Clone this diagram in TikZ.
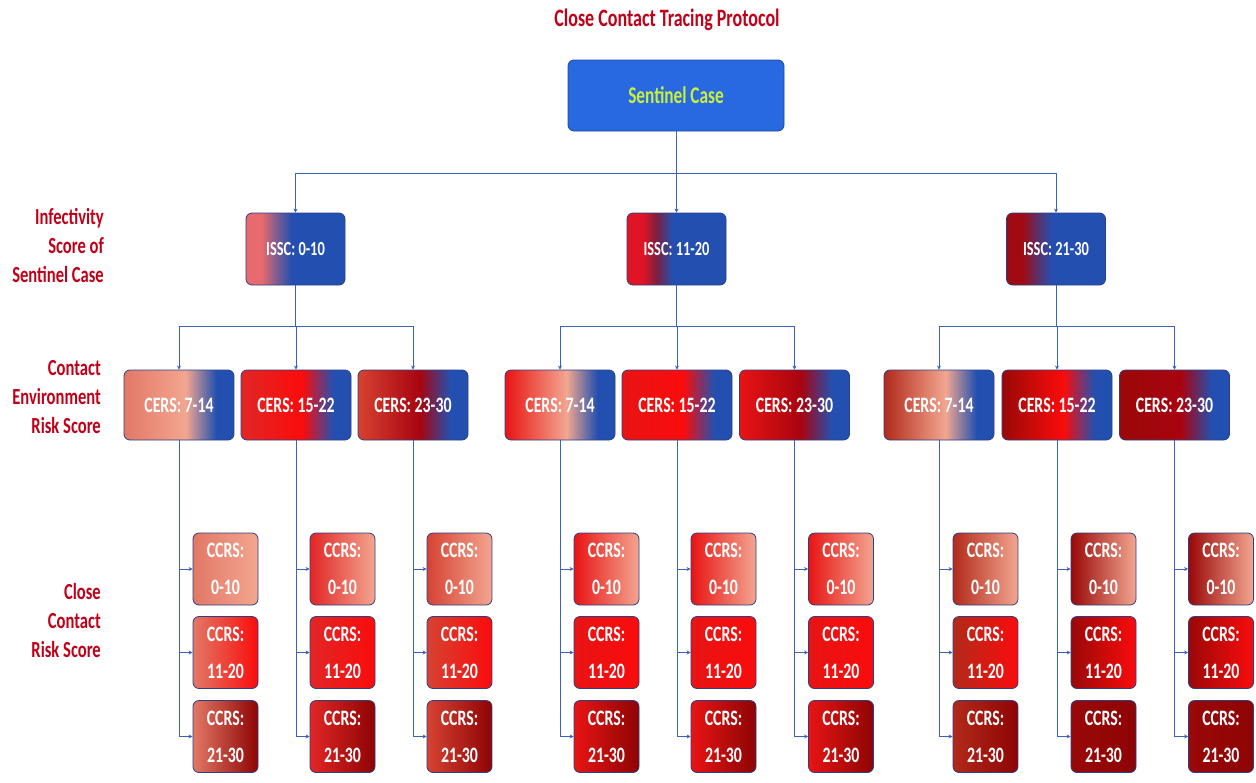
\documentclass[tikz,border=0pt]{standalone}
\usepackage{fontspec}
\setmainfont{Carlito}[FakeStretch=0.72]
\usetikzlibrary{arrows.meta}

\definecolor{titlered}{HTML}{C00018}
\definecolor{linkblue}{HTML}{3A62B8}
\definecolor{boxblue}{HTML}{2350B0}
\definecolor{edgeblue}{HTML}{2A3F86}
\definecolor{sentblue}{HTML}{2868E0}
\definecolor{sentgreen}{HTML}{C6F03C}
\definecolor{salmon}{HTML}{E27866}
\definecolor{palesalmon}{HTML}{F2A690}
\definecolor{brightred}{HTML}{FA0C0C}
\definecolor{midred}{HTML}{E22626}
\definecolor{flamered}{HTML}{E81414}
\definecolor{rustred}{HTML}{D64232}
\definecolor{deepred}{HTML}{A80410}
\definecolor{brickred}{HTML}{B22A1A}
\definecolor{darkred}{HTML}{9A0808}
\definecolor{rowdark}{HTML}{8E0404}
\definecolor{pinkred}{HTML}{E66A6E}
\definecolor{isscred}{HTML}{E01424}
\definecolor{isscdark}{HTML}{A00A12}

% shadings, colours chosen per node
\colorlet{lc}{red}\colorlet{mc}{red}\colorlet{rc}{blue}
\pgfdeclarehorizontalshading[lc,mc,rc]{isscshade}{100bp}{color(0bp)=(lc); color(33bp)=(lc); color(40bp)=(mc); color(48bp)=(rc); color(100bp)=(rc)}
\pgfdeclarehorizontalshading[lc,mc,rc]{cersshade}{100bp}{color(0bp)=(lc); color(25bp)=(lc); color(53bp)=(mc); color(67bp)=(rc); color(100bp)=(rc)}

\tikzset{
  box/.style={rounded corners=6pt, draw=edgeblue, line width=0.8pt, text=white,
    font=\bfseries\fontsize{22}{37}\selectfont, align=center, inner sep=0pt},
  sentbox/.style={box, fill=sentblue, draw=sentblue!70!black, minimum width=216pt,
    minimum height=71pt, text=sentgreen, font=\bfseries\fontsize{24}{28}\selectfont},
  issc/.style n args={3}{box, minimum width=99pt, minimum height=72pt, shading=isscshade,
    font=\bfseries\fontsize{20}{24}\selectfont,
    /utils/exec={\colorlet{lc}{#1}\colorlet{mc}{#2}\colorlet{rc}{#3}}},
  cers/.style 2 args={box, minimum width=110pt, minimum height=70pt, shading=cersshade,
    /utils/exec={\colorlet{lc}{#1}\colorlet{mc}{#2}\colorlet{rc}{boxblue}}},
  ccrs/.style 2 args={box, minimum width=65pt, minimum height=72pt,
    left color=#1, right color=#2},
  lbl/.style={text=titlered, font=\bfseries\fontsize{23}{29}\selectfont, inner sep=0pt},
  link/.style={draw=linkblue, line width=0.9pt},
  tip/.style={-{Stealth[length=4pt,width=4pt]}}
}

\begin{document}
\begin{tikzpicture}[x=1pt, y=-1pt]
	\useasboundingbox (0,0) rectangle (1256,782);
	
	\node[lbl, font=\bfseries\fontsize{25}{28}\selectfont] (ttl) at (667,20) {Close Contact Tracing Protocol};
	\node[sentbox] (sc) at (676,95.5) {Sentinel Case};
	
	\node[lbl, anchor=east, align=right] (l1) at (104,245) {Infectivity\\Score of\\Sentinel Case};
	\node[lbl, anchor=east, align=right] (l2) at (101,397) {Contact\\Environment\\Risk Score};
	\node[lbl, anchor=east, align=right] (l3) at (101,621) {Close\\Contact\\Risk Score};
	
	\node[issc={pinkred}{pinkred!50!boxblue}{boxblue}] (i1) at (295.5,249) {ISSC: 0-10};
	\node[issc={isscred}{isscdark!70!boxblue}{boxblue}] (i2) at (676.5,249) {ISSC: 11-20};
	\node[issc={isscdark}{isscdark!50!boxblue}{boxblue}] (i3) at (1056,249) {ISSC: 21-30};
	
	\coordinate (k0) at (676,173);
	\draw[link] (sc) -- (k0);
	\foreach \g in {1,2,3}
		\draw[link, tip] (k0) -| (i\g.north);
	
	% environment boxes and their close contacts
	\foreach \n/\x/\lc/\mc/\t in {11/179/salmon/palesalmon/7-14, 12/296/midred/brightred/15-22,
		13/413/rustred/deepred/23-30, 21/560/flamered/palesalmon/7-14, 22/677/flamered/brightred/15-22,
		23/794.5/flamered/deepred/23-30, 31/939/brickred/palesalmon/7-14, 32/1057/darkred/brightred/15-22,
		33/1174.5/darkred/deepred/23-30} {
		\node[cers={\lc}{\mc}] (c\n) at (\x,405) {CERS: \t};
		\node[ccrs={\lc}{palesalmon}] (r\n-1) at (\x+46.5,569) {CCRS:\\0-10};
		\node[ccrs={\lc}{brightred}] (r\n-2) at (\x+46.5,652.5) {CCRS:\\11-20};
		\node[ccrs={\lc}{rowdark}] (r\n-3) at (\x+46.5,736.5) {CCRS:\\21-30};
		\foreach \r in {1,2,3}
			\draw[link, tip] (c\n.south) |- (r\n-\r.west);
	}
	
	\foreach \g/\x in {1/295.5, 2/676.5, 3/1056} {
		\coordinate (k\g) at (\x,326);
		\draw[link] (i\g) -- (k\g);
		\foreach \c in {1,2,3}
			\draw[link, tip] (k\g) -| (c\g\c.north);
	}
\end{tikzpicture}
\end{document}
